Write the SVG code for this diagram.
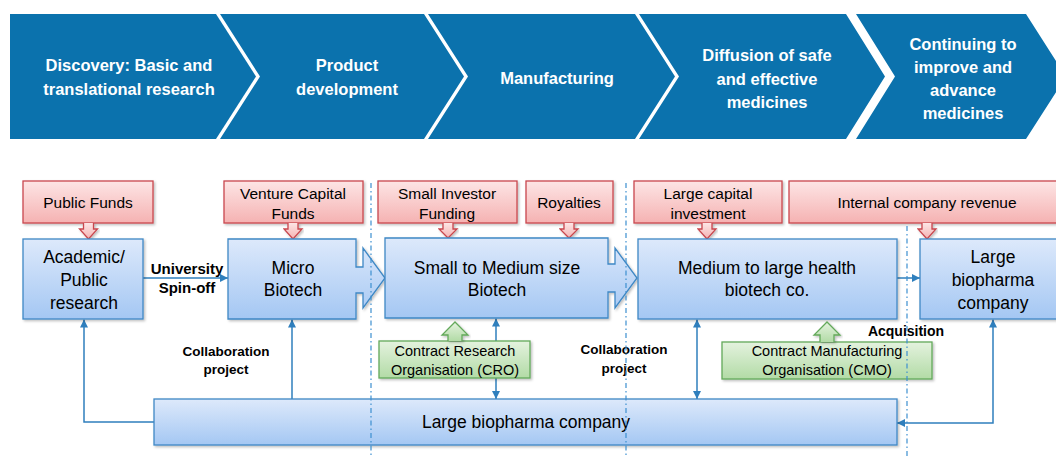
<svg xmlns="http://www.w3.org/2000/svg" width="1056" height="456" viewBox="0 0 1056 456">
  <defs>
    <linearGradient id="gBlue" x1="0" y1="0" x2="0" y2="1">
      <stop offset="0" stop-color="#dde9fb"/>
      <stop offset="1" stop-color="#a4c7f3"/>
    </linearGradient>
    <linearGradient id="gPink" x1="0" y1="0" x2="0" y2="1">
      <stop offset="0" stop-color="#fde5e5"/>
      <stop offset="1" stop-color="#f5b2b2"/>
    </linearGradient>
    <linearGradient id="gGreen" x1="0" y1="0" x2="0" y2="1">
      <stop offset="0" stop-color="#e4f2de"/>
      <stop offset="1" stop-color="#b2dba6"/>
    </linearGradient>
    <filter id="shadow" x="-5%" y="-10%" width="115%" height="130%">
      <feDropShadow dx="1.5" dy="1.5" stdDeviation="1" flood-color="#000" flood-opacity="0.25"/>
    </filter>
    <marker id="arr" viewBox="0 0 10 10" refX="10" refY="5" markerWidth="8" markerHeight="8" markerUnits="userSpaceOnUse" orient="auto-start-reverse">
      <path d="M0,0 L10,5 L0,10 Z" fill="#2f7fbd"/>
    </marker>
  </defs>
  <style>
    .stage { fill: #0b72ad; }
    .stageText { font-family: "Liberation Sans", Arial, sans-serif; font-weight: bold; font-size: 16.5px; fill: #ffffff; text-anchor: middle; }
    .blue { fill: url(#gBlue); stroke: #3f88c5; stroke-width: 1.3; filter: url(#shadow); }
    .pink { fill: url(#gPink); stroke: #c9474e; stroke-width: 1.3; filter: url(#shadow); }
    .green { fill: url(#gGreen); stroke: #63a95a; stroke-width: 1.3; filter: url(#shadow); }
    .tBlue { font-family: "Liberation Sans", Arial, sans-serif; font-size: 17.5px; fill: #000; text-anchor: middle; }
    .tPink { font-family: "Liberation Sans", Arial, sans-serif; font-size: 15.5px; fill: #000; text-anchor: middle; }
    .tGreen { font-family: "Liberation Sans", Arial, sans-serif; font-size: 14.5px; fill: #000; text-anchor: middle; }
    .tLabel { font-family: "Liberation Sans", Arial, sans-serif; font-weight: bold; font-size: 13.5px; fill: #000; text-anchor: middle; }
    .conn { fill: none; stroke: #2f7fbd; stroke-width: 1.5; }
    .divider { fill: none; stroke: #3d8fd0; stroke-width: 1.2; stroke-dasharray: 5 3 1.5 3; }
  </style>

  <!-- value-chain stages -->
  <g id="stages">
    <path class="stage" d="M10,14 H216 L256,76.5 L216,139 H10 Z"/>
    <path class="stage" d="M220,14 H424 L464,76.5 L424,139 H220 L260,76.5 Z"/>
    <path class="stage" d="M428,14 H635 L675,76.5 L635,139 H428 L468,76.5 Z"/>
    <path class="stage" d="M639,14 H846 L885,76.5 L846,139 H639 L679,76.5 Z"/>
    <path class="stage" d="M856,14 H1026 L1066,76.5 L1026,139 H856 L895,76.5 Z"/>
    <text class="stageText"><tspan x="129" y="71">Discovery: Basic and</tspan><tspan x="129" y="95">translational research</tspan></text>
    <text class="stageText"><tspan x="347" y="71">Product</tspan><tspan x="347" y="95">development</tspan></text>
    <text class="stageText" x="557" y="84">Manufacturing</text>
    <text class="stageText"><tspan x="767" y="61">Diffusion of safe</tspan><tspan x="767" y="85">and effective</tspan><tspan x="767" y="108">medicines</tspan></text>
    <text class="stageText"><tspan x="963" y="50">Continuing to</tspan><tspan x="963" y="73">improve and</tspan><tspan x="963" y="96">advance</tspan><tspan x="963" y="119">medicines</tspan></text>
  </g>

  <!-- connectors -->
  <g id="connectors">
    <line class="conn" x1="143" y1="278" x2="228" y2="278" marker-end="url(#arr)"/>
    <polyline class="conn" points="154,422 84,422 84,319.5" marker-end="url(#arr)"/>
    <line class="conn" x1="292" y1="399" x2="292" y2="319.5" marker-end="url(#arr)"/>
    <line class="conn" x1="496" y1="318.5" x2="496" y2="399" marker-start="url(#arr)" marker-end="url(#arr)"/>
    <line class="conn" x1="697" y1="319.5" x2="697" y2="399" marker-start="url(#arr)" marker-end="url(#arr)"/>
    <line class="conn" x1="897" y1="278" x2="920" y2="278" marker-end="url(#arr)"/>
    <polyline class="conn" points="993,319.5 993,423 897,423" marker-start="url(#arr)" marker-end="url(#arr)"/>
  </g>

  <!-- funding sources -->
  <g id="public-funds">
    <rect class="pink" x="23" y="181" width="130" height="42"/>
    <path class="pink" d="M83.5,223 V229 H79.5 L88.5,239 L97.5,229 H93.5 V223"/>
    <text class="tPink" x="88" y="207.5">Public Funds</text>
  </g>
  <g id="venture-capital">
    <rect class="pink" x="224" y="181" width="139" height="42"/>
    <path class="pink" d="M288,223 V229 H284 L293,239 L302,229 H298 V223"/>
    <text class="tPink"><tspan x="293" y="198.5">Venture Capital</tspan><tspan x="293" y="218.5">Funds</tspan></text>
  </g>
  <g id="small-investor">
    <rect class="pink" x="378" y="181" width="139" height="42"/>
    <path class="pink" d="M443,223 V229 H439 L448,238 L457,229 H453 V223"/>
    <text class="tPink"><tspan x="447" y="198.5">Small Investor</tspan><tspan x="447" y="218.5">Funding</tspan></text>
  </g>
  <g id="royalties">
    <rect class="pink" x="526" y="181" width="87" height="42"/>
    <path class="pink" d="M564,223 V229 H560 L569,238 L578,229 H574 V223"/>
    <text class="tPink" x="569" y="207.5">Royalties</text>
  </g>
  <g id="large-capital">
    <rect class="pink" x="634" y="181" width="148" height="42"/>
    <path class="pink" d="M702,223 V229 H698 L707,239 L716,229 H712 V223"/>
    <text class="tPink"><tspan x="708" y="198.5">Large capital</tspan><tspan x="708" y="218.5">investment</tspan></text>
  </g>
  <g id="internal-revenue">
    <rect class="pink" x="789" y="181" width="275" height="42"/>
    <path class="pink" d="M922,223 V229 H918 L927,239 L936,229 H932 V223"/>
    <text class="tPink" x="927" y="207.5">Internal company revenue</text>
  </g>

  <!-- organisations -->
  <g id="academic">
    <rect class="blue" x="23" y="239" width="120" height="80"/>
    <text class="tBlue"><tspan x="84" y="263">Academic/</tspan><tspan x="84" y="286">Public</tspan><tspan x="84" y="309">research</tspan></text>
  </g>
  <g id="micro-biotech">
    <path class="blue" d="M228,239 H356 V267 H363 V248 L385,278 L363,308 V293 H356 V319 H228 Z"/>
    <text class="tBlue"><tspan x="293" y="274">Micro</tspan><tspan x="293" y="296">Biotech</tspan></text>
  </g>
  <g id="small-medium-biotech">
    <path class="blue" d="M385,238 H608 V264 H615 V248 L637,278 L615,308 V292 H608 V318 H385 Z"/>
    <text class="tBlue"><tspan x="497" y="274">Small to Medium size</tspan><tspan x="497" y="296">Biotech</tspan></text>
  </g>
  <g id="medium-large-biotech">
    <rect class="blue" x="638" y="239" width="259" height="80"/>
    <text class="tBlue"><tspan x="767" y="274">Medium to large health</tspan><tspan x="767" y="296">biotech co.</tspan></text>
  </g>
  <g id="large-biopharma-right">
    <rect class="blue" x="920" y="239" width="144" height="80"/>
    <text class="tBlue"><tspan x="993" y="263">Large</tspan><tspan x="993" y="286">biopharma</tspan><tspan x="993" y="309">company</tspan></text>
  </g>
  <g id="cro">
    <rect class="green" x="379" y="341" width="151" height="37"/>
    <path class="green" d="M448,341 V335 H442 L455,322 L468,335 H462 V341"/>
    <text class="tGreen"><tspan x="455" y="356">Contract Research</tspan><tspan x="455" y="375">Organisation (CRO)</tspan></text>
  </g>
  <g id="cmo">
    <rect class="green" x="722" y="342" width="210" height="37"/>
    <path class="green" d="M820,342 V335 H814 L827,322 L840,335 H834 V342"/>
    <text class="tGreen"><tspan x="827" y="356">Contract Manufacturing</tspan><tspan x="827" y="375">Organisation (CMO)</tspan></text>
  </g>
  <g id="large-biopharma-bottom">
    <rect class="blue" x="154" y="399" width="743" height="46"/>
    <text class="tBlue" x="526" y="428">Large biopharma company</text>
  </g>

  <!-- connector labels -->
  <g id="labels">
    <text class="tLabel" style="font-size:15px"><tspan x="187" y="274">University</tspan><tspan x="187" y="293">Spin-off</tspan></text>
    <text class="tLabel"><tspan x="226" y="356">Collaboration</tspan><tspan x="226" y="374">project</tspan></text>
    <text class="tLabel"><tspan x="624" y="354">Collaboration</tspan><tspan x="624" y="373">project</tspan></text>
    <text class="tLabel" style="font-size:14px" x="906" y="336">Acquisition</text>
  </g>

  <!-- stage dividers -->
  <g id="dividers">
    <line class="divider" x1="371" y1="183" x2="371" y2="456"/>
    <line class="divider" x1="626" y1="183" x2="626" y2="456"/>
    <line class="divider" x1="907" y1="226" x2="907" y2="456"/>
  </g>
</svg>
